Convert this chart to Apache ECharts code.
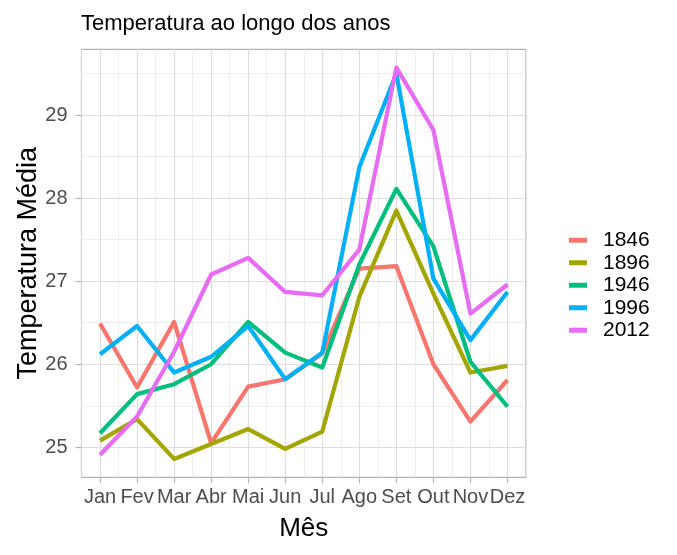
<!DOCTYPE html>
<html>
<head>
<meta charset="utf-8">
<script src="https://cdn.jsdelivr.net/npm/echarts@6/dist/echarts.min.js"></script>
<style>
html,body{margin:0;padding:0;background:#fff;}
#chart{width:677px;height:555px;}
</style>
</head>
<body>
<div id="chart"></div>
<script>
const months = ['Jan','Fev','Mar','Abr','Mai','Jun','Jul','Ago','Set','Out','Nov','Dez'];
const years = ['1846','1896','1946','1996','2012'];
const t1846 = [26.49, 25.72, 26.51, 25.05, 25.73, 25.82, 26.13, 27.15, 27.18, 26.00, 25.31, 25.81];
const t1896 = [25.08, 25.34, 24.86, 25.04, 25.22, 24.98, 25.19, 26.81, 27.85, 26.85, 25.90, 25.98];
const t1946 = [25.17, 25.64, 25.76, 26.00, 26.51, 26.14, 25.96, 27.20, 28.11, 27.42, 26.03, 25.49];
const t1996 = [26.12, 26.46, 25.90, 26.09, 26.46, 25.82, 26.14, 28.37, 29.50, 27.03, 26.29, 26.87];
const t2012 = [24.91, 25.37, 26.15, 27.08, 27.28, 26.87, 26.83, 27.38, 29.57, 28.82, 26.61, 26.96];
const yTicks = [25, 26, 27, 28, 29];
const colors = ['#F8766D', '#A3A500', '#00BF7D', '#00B0F6', '#E76BF3'];
const seriesValues = [t1846, t1896, t1946, t1996, t2012];

const FONT = 'Liberation Sans, Arial, sans-serif';
const chart = echarts.init(document.getElementById('chart'), null, {renderer: 'canvas'});

const option = {
  animation: false,
  backgroundColor: '#ffffff',
  color: colors,
  textStyle: {fontFamily: FONT},
  title: {
    text: 'Temperatura ao longo dos anos',
    left: 76,
    top: 8,
    textStyle: {fontFamily: FONT, fontSize: 22, fontWeight: 'normal', color: '#000'}
  },
  legend: {
    data: years,
    orient: 'vertical',
    left: 564,
    top: 224,
    icon: 'rect',
    itemWidth: 18,
    itemHeight: 5,
    itemGap: 0,
    textStyle: {fontFamily: FONT, fontSize: 21, color: '#000', lineHeight: 22.5, padding: [0, 0, 0, 11]}
  },
  grid: {
    left: 81.5, top: 49.3, width: 444.5, height: 428,
    show: true, borderColor: '#B3B3B3', borderWidth: 1.2, backgroundColor: 'transparent'
  },
  xAxis: [
    {
      type: 'category',
      data: months,
      boundaryGap: true,
      axisLine: {show: false},
      axisTick: {show: true, alignWithLabel: true, length: 6, lineStyle: {color: '#B3B3B3', width: 1.2}},
      axisLabel: {fontFamily: FONT, fontSize: 20, color: '#4D4D4D', margin: 10, interval: 0},
      splitLine: {show: false},
      name: 'Mês',
      nameLocation: 'middle',
      nameGap: 39,
      nameTextStyle: {fontFamily: FONT, fontSize: 26, color: '#000'},
      z: 3
    },
    {
      type: 'value',
      min: 0, max: 12, interval: 1,
      position: 'bottom',
      axisLine: {show: false}, axisTick: {show: false}, axisLabel: {show: false},
      splitLine: {show: true, lineStyle: {color: '#E6E6E6', width: 0.7}},
      minorTick: {show: false, splitNumber: 2},
      minorSplitLine: {show: true, lineStyle: {color: '#DEDEDE', width: 1.2}}
    }
  ],
  yAxis: [
    {
      type: 'value',
      min: 24.639, max: 29.791,
      splitNumber: 5,
      axisLine: {show: false},
      axisTick: {show: true, length: 6, customValues: yTicks, lineStyle: {color: '#B3B3B3', width: 1.2}},
      axisLabel: {fontFamily: FONT, fontSize: 20, color: '#4D4D4D', margin: 14, customValues: yTicks,
        formatter: function (v) { return Number.isInteger(v) ? String(v) : ''; }},
      splitLine: {show: true, lineStyle: {color: '#DEDEDE', width: 1.2}},
      minorTick: {show: false, splitNumber: 2},
      minorSplitLine: {show: true, lineStyle: {color: '#E6E6E6', width: 0.7}},
      name: 'Temperatura Média',
      nameLocation: 'middle',
      nameMoveOverlap: false,
      nameGap: 39,
      nameTextStyle: {fontFamily: FONT, fontSize: 27, color: '#000'}
    }
  ],
  series: years.map(function (y, i) {
    return {
      name: y,
      type: 'line',
      xAxisIndex: 0,
      yAxisIndex: 0,
      data: seriesValues[i],
      symbol: 'none',
      smooth: false,
      lineStyle: {width: 4.2, color: colors[i], join: 'round', cap: 'butt'},
      itemStyle: {color: colors[i]},
      emphasis: {disabled: true},
      z: 4 + i
    };
  })
};
chart.setOption(option);
</script>
</body>
</html>
